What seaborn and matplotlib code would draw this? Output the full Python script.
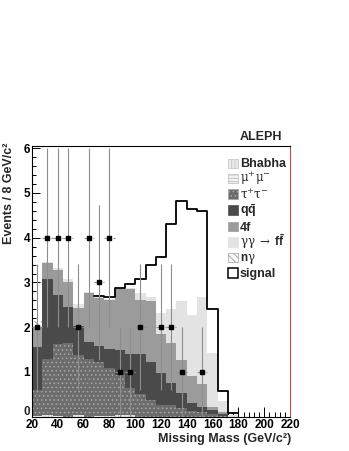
import numpy as np
import pandas as pd
import matplotlib
matplotlib.use("Agg")
import matplotlib.pyplot as plt
import matplotlib.colors as mcolors
import seaborn as sns
from matplotlib.patches import Rectangle
from matplotlib.ticker import MultipleLocator, FuncFormatter

# ---------------- data ----------------
bin_edges = [20, 28, 36, 44, 52, 60, 68, 76, 84, 92, 100, 108, 116, 124, 132,
             140, 148, 156, 164, 172, 180, 188, 196, 204, 212, 220]
bin_centers = [24, 32, 40, 48, 56, 64, 72, 80, 88, 96, 104, 112, 120, 128, 136,
               144, 152, 160, 168, 176, 184, 192, 200, 208, 216]

bhabha = [0.00, 0.03, 0.00, 0.00, 0.03, 0.00, 0.00, 0.02, 0.04, 0.03, 0.00, 0.00, 0.00,
          0.00, 0.00, 0.00, 0.00, 0.00, 0.00, 0.00, 0.00, 0.00, 0.00, 0.00, 0.00]
mumu = [0.02, 0.00, 0.02, 0.00, 0.00, 0.00, 0.02, 0.00, 0.00, 0.00, 0.00, 0.00, 0.00,
        0.00, 0.00, 0.00, 0.00, 0.00, 0.00, 0.00, 0.00, 0.00, 0.00, 0.00, 0.00]
tautau = [0.58, 1.26, 1.61, 1.65, 1.35, 1.29, 1.21, 1.06, 0.89, 0.62, 0.50, 0.38, 0.26,
          0.26, 0.19, 0.12, 0.10, 0.05, 0.02, 0.00, 0.00, 0.00, 0.00, 0.00, 0.00]
qqbar = [0.96, 1.79, 1.10, 0.81, 0.65, 0.37, 0.36, 0.44, 0.56, 0.75, 0.90, 0.85, 0.71,
         0.49, 0.33, 0.18, 0.12, 0.10, 0.03, 0.00, 0.00, 0.00, 0.00, 0.00, 0.00]
fourf = [0.45, 0.36, 0.55, 0.54, 0.41, 1.10, 1.07, 1.09, 1.36, 1.45, 1.21, 1.36, 0.87,
         0.89, 0.75, 0.60, 0.50, 0.07, 0.05, 0.00, 0.00, 0.00, 0.00, 0.00, 0.00]
gamgam = [0.02, 0.02, 0.04, 0.08, 0.07, 0.02, 0.02, 0.02, 0.01, 0.02, 0.15, 0.09, 0.48,
          0.77, 1.32, 1.37, 1.95, 1.20, 0.24, 0.04, 0.00, 0.00, 0.00, 0.00, 0.00]
ngamma = [0.10, 0.00, 0.00, 0.00, 0.00, 0.00, 0.00, 0.00, 0.00, 0.00, 0.00, 0.00, 0.00,
          0.00, 0.00, 0.00, 0.00, 0.00, 0.00, 0.00, 0.00, 0.00, 0.00, 0.00, 0.00]
signal = [0.00, 0.00, 0.00, 0.00, 0.00, 0.00, 0.01, 0.05, 0.02, 0.10, 0.32, 0.71, 1.24,
          1.89, 2.23, 2.38, 1.93, 0.98, 0.23, 0.04, 0.00, 0.00, 0.00, 0.00, 0.00]
observed = [2, 4, 4, 4, 2, 4, 3, 4, 1, 1, 2, 0, 2, 2, 1, 0, 1, 0, 0, 0, 0, 0, 0, 0, 0]

comp_keys = ["Bhabha", "mumu", "tautau", "qq", "4f", "gg", "ng"]
comp_vals = [bhabha, mumu, tautau, qqbar, fourf, gamgam, ngamma]
comp_labels = ["Bhabha", r"$\mathrm{\mu^{+}\mu^{-}}$", r"$\mathrm{\tau^{+}\tau^{-}}$",
               r"$\mathbf{q\bar{q}}$", "4f",
               r"$\mathrm{\gamma\gamma}\;\mathrm{\rightarrow}\;\mathbf{f\bar{f}}$",
               r"$\mathbf{n}\mathrm{\gamma}$"]

# ---------------- styles ----------------
face = {"Bhabha": "#ececec", "mumu": "#f3f3f3", "tautau": "#6c6c6c", "qq": "#4a4a4a",
        "4f": "#9b9b9b", "gg": "#e3e3e3", "ng": "#fbfbfb"}
hatch = {"Bhabha": "|||||", "mumu": "-----", "tautau": "....", "qq": None,
         "4f": None, "gg": None, "ng": "\\\\\\\\\\"}
hcol = {"Bhabha": "#c4c4c4", "mumu": "#bdbdbd", "tautau": "#a8a8a8", "qq": "#4a4a4a",
        "4f": "#9b9b9b", "gg": "#e3e3e3", "ng": "#a0a0a0"}

sns.set_style("ticks")
plt.rcParams.update({
    "font.family": ["Liberation Sans", "DejaVu Sans"],
    "mathtext.fontset": "custom",
    "mathtext.rm": "DejaVu Serif:weight=normal",
    "mathtext.it": "DejaVu Serif:italic",
    "mathtext.bf": "Liberation Sans:bold",
    "mathtext.sf": "Liberation Sans",
    "hatch.linewidth": 0.6,
})

fig = plt.figure(figsize=(3.49, 4.51), dpi=100)
AX_L, AX_R, AX_T, AX_B = 32.0, 290.0, 146.0, 416.7
ax = fig.add_axes([AX_L / 349, 1 - AX_B / 451, (AX_R - AX_L) / 349, (AX_B - AX_T) / 451])


def ax_xy(px, py):
    return (px - AX_L) / (AX_R - AX_L), (AX_B - py) / (AX_B - AX_T)


# long-form table for the stacked backgrounds
rows = []
for key, vals in zip(comp_keys, comp_vals):
    for c, v in zip(bin_centers, vals):
        rows.append({"mass": c, "events": v, "comp": key})
df = pd.DataFrame(rows)

sns.histplot(data=df, x="mass", weights="events", hue="comp",
             hue_order=comp_keys[::-1], multiple="stack", bins=bin_edges,
             element="step", fill=True, palette=face, alpha=1, linewidth=0,
             legend=False, ax=ax)

# hatching for the patterned components
rgba_map = {k: mcolors.to_rgba(v) for k, v in face.items()}
for coll in ax.collections:
    fc = tuple(np.round(coll.get_facecolor()[0], 3))
    for k, rgba in rgba_map.items():
        if tuple(np.round(rgba, 3)) == fc and hatch[k]:
            coll.set_hatch(hatch[k])
            coll.set_edgecolor(hcol[k])
            coll.set_linewidth(0)

# signal outline stacked on total background
bg_total = np.sum(np.array(comp_vals), axis=0)
sig = np.array(signal)
idx = np.where(sig > 0)[0]
i0, i1 = idx[0], idx[-1]
outline = bg_total + sig
sns.histplot(x=np.array(bin_centers)[i0:i1 + 1], weights=outline[i0:i1 + 1],
             bins=bin_edges[i0:i1 + 2], element="step", fill=False,
             color="black", linewidth=1.3, ax=ax)

# data points
obs = np.array(observed, dtype=float)
m = obs > 0
eb = ax.errorbar(np.array(bin_centers)[m], obs[m], xerr=4, yerr=np.sqrt(obs[m]),
                 fmt="s", ms=3, mfc="black", mec="black", ecolor="#8e8e8e",
                 elinewidth=0.8, capsize=0, zorder=5)
eb[2][0].set_linestyle((0, (2.5, 1.5)))

# ---------------- axes ----------------
ax.set_xlim(20, 220)
ax.set_ylim(0, 6.05)
ax.xaxis.set_major_locator(MultipleLocator(20))
ax.xaxis.set_minor_locator(MultipleLocator(4))
ax.yaxis.set_major_locator(MultipleLocator(1))
ax.yaxis.set_minor_locator(MultipleLocator(0.2))
# the "0" of the y axis is written separately, just above the x labels
ax.yaxis.set_major_formatter(FuncFormatter(lambda v, p: "" if abs(v) < 1e-9 else f"{v:g}"))
ax.tick_params(which="both", direction="in", top=False, right=False, colors="black",
               labelsize=8.5, width=0.7)
ax.tick_params(axis="x", which="major", length=7, pad=1.5)
ax.tick_params(axis="x", which="minor", length=3.5)
ax.tick_params(axis="y", which="major", length=6, pad=1.5)
ax.tick_params(axis="y", which="minor", length=3)
for lab in ax.get_xticklabels() + ax.get_yticklabels():
    lab.set_fontweight("bold")
zx, zy = ax_xy(30.5, 415.0)
ax.text(zx, zy, "0", transform=ax.transAxes, ha="right", va="baseline",
        fontsize=8.5, fontweight="bold")

for side in ["left", "bottom", "top"]:
    ax.spines[side].set_color("black")
    ax.spines[side].set_linewidth(0.8)
ax.spines["right"].set_color("#b5504f")
ax.spines["right"].set_linewidth(0.8)

ax.set_xlabel("Missing Mass (GeV/c²)", loc="right", fontsize=9, fontweight="bold")
ax.xaxis.set_label_coords(1.004, -0.06)
ax.set_ylabel("Events / 8 GeV/c²", loc="top", fontsize=9, fontweight="bold")
ax.yaxis.set_label_coords(-0.066, 1.011)

tx, ty = ax_xy(260.5, 140.0)
ax.text(tx, ty, "ALEPH", transform=ax.transAxes, ha="center", va="baseline",
        fontsize=9, fontweight="bold")

# ---------------- legend (drawn entry by entry) ----------------
leg_centers = [163.3, 178.3, 194.2, 210.0, 226.7, 242.0, 257.3, 273.0]
leg_labels = comp_labels + ["signal"]
box_w, box_h = 9.5, 9.5
for i, yc in enumerate(leg_centers):
    x0, y0 = ax_xy(228.0, yc + box_h / 2)
    w = box_w / (AX_R - AX_L)
    h = box_h / (AX_B - AX_T)
    if i < len(comp_keys):
        k = comp_keys[i]
        rect = Rectangle((x0, y0), w, h, transform=ax.transAxes, facecolor=face[k],
                         hatch=hatch[k], edgecolor=hcol[k], linewidth=0.5,
                         clip_on=False, zorder=6)
    else:
        rect = Rectangle((x0, y0), w, h, transform=ax.transAxes, facecolor="white",
                         edgecolor="black", linewidth=1.1, clip_on=False, zorder=6)
    ax.add_patch(rect)
    lx, ly = ax_xy(240.0, yc + 4.0)
    ax.text(lx, ly, leg_labels[i], transform=ax.transAxes, ha="left", va="baseline",
            fontsize=9 if i in (0, 3, 4, 7) else 8.5, fontweight="bold", zorder=6)

fig.savefig("out.png", dpi=100)
